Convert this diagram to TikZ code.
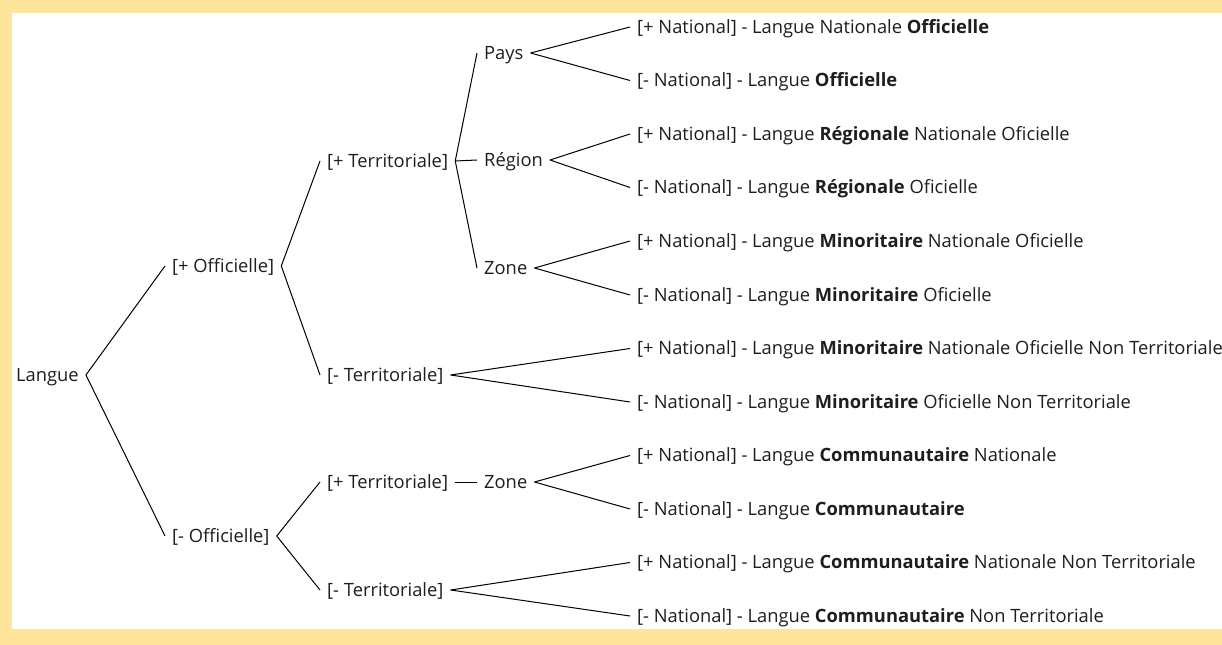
\documentclass[tikz,border=0pt]{standalone}
\usepackage{fontspec}
\setmainfont{Open Sans}
\definecolor{bgyellow}{HTML}{FFE599}
\definecolor{txt}{HTML}{1E1E1E}
\begin{document}
\begin{tikzpicture}[x=0.75pt,y=-0.75pt,
  lbl/.style={anchor=west, inner xsep=5.2pt, inner ysep=0pt, text height=9.6pt, text depth=0.4pt, font=\fontsize{13.75}{16}\selectfont, text=txt},
  edge/.style={draw=black, line width=0.75pt}]
\fill[bgyellow] (0,0) rectangle (1222,645);
\fill[white] (12,13) rectangle (1222,629);
\useasboundingbox (0,0) rectangle (1222,645);
% level 0
\node[lbl] (langue) at (9,375) {Langue};
% level 1
\node[lbl] (po) at (165,266) {[+ Officielle]};
\node[lbl] (mo) at (165,536) {[- Officielle]};
% level 2
\node[lbl] (pt1) at (320,161) {[+ Territoriale]};
\node[lbl] (mt1) at (320,375) {[- Territoriale]};
\node[lbl] (pt2) at (320,482) {[+ Territoriale]};
\node[lbl] (mt2) at (320,590) {[- Territoriale]};
% level 3
\node[lbl] (pays) at (477,53) {Pays};
\node[lbl] (region) at (477,160) {Région};
\node[lbl] (zone1) at (477,268) {Zone};
\node[lbl] (zone2) at (477,482) {Zone};
% leaves
\node[lbl] (l1) at (630,27) {[+ National] - Langue Nationale \textbf{Officielle}};
\node[lbl] (l2) at (630,80.5) {[- National] - Langue \textbf{Officielle}};
\node[lbl] (l3) at (630,134) {[+ National] - Langue \textbf{Régionale} Nationale Oficielle};
\node[lbl] (l4) at (630,187.5) {[- National] - Langue \textbf{Régionale} Oficielle};
\node[lbl] (l5) at (630,241) {[+ National] - Langue \textbf{Minoritaire} Nationale Oficielle};
\node[lbl] (l6) at (630,295) {[- National] - Langue \textbf{Minoritaire} Oficielle};
\node[lbl] (l7) at (630,348.5) {[+ National] - Langue \textbf{Minoritaire} Nationale Oficielle Non Territoriale};
\node[lbl] (l8) at (630,402) {[- National] - Langue \textbf{Minoritaire} Oficielle Non Territoriale};
\node[lbl] (l9) at (630,455.5) {[+ National] - Langue \textbf{Communautaire} Nationale};
\node[lbl] (l10) at (630,509) {[- National] - Langue \textbf{Communautaire}};
\node[lbl] (l11) at (630,562.5) {[+ National] - Langue \textbf{Communautaire} Nationale Non Territoriale};
\node[lbl] (l12) at (630,616) {[- National] - Langue \textbf{Communautaire} Non Territoriale};
% edges
\draw[edge] (langue.east) -- (po.west);
\draw[edge] (langue.east) -- (mo.west);
\draw[edge] (po.east) -- (pt1.west);
\draw[edge] (po.east) -- (mt1.west);
\draw[edge] (mo.east) -- (pt2.west);
\draw[edge] (mo.east) -- (mt2.west);
\draw[edge] (pt1.east) -- (pays.west);
\draw[edge] (pt1.east) -- (region.west);
\draw[edge] (pt1.east) -- (zone1.west);
\draw[edge] (pt2.east) -- (zone2.west);
\draw[edge] (pays.east) -- (l1.west);
\draw[edge] (pays.east) -- (l2.west);
\draw[edge] (region.east) -- (l3.west);
\draw[edge] (region.east) -- (l4.west);
\draw[edge] (zone1.east) -- (l5.west);
\draw[edge] (zone1.east) -- (l6.west);
\draw[edge] (mt1.east) -- (l7.west);
\draw[edge] (mt1.east) -- (l8.west);
\draw[edge] (zone2.east) -- (l9.west);
\draw[edge] (zone2.east) -- (l10.west);
\draw[edge] (mt2.east) -- (l11.west);
\draw[edge] (mt2.east) -- (l12.west);
\end{tikzpicture}
\end{document}
